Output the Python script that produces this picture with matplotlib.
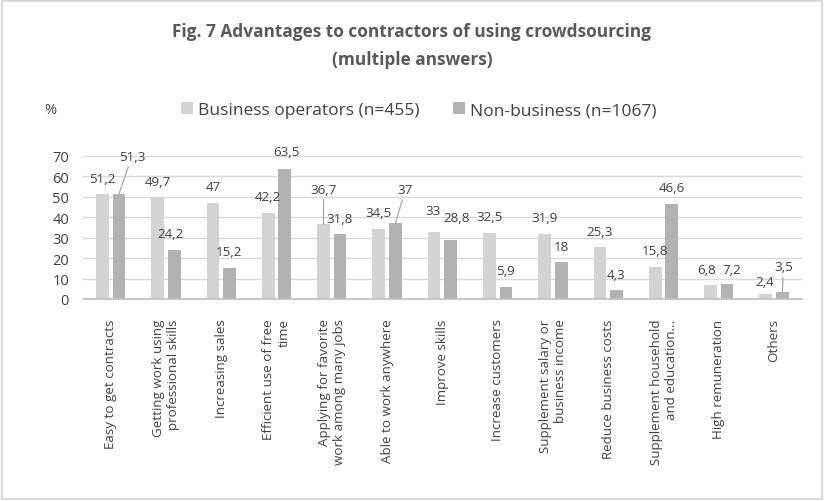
import matplotlib.pyplot as plt
import matplotlib.patches as mpatches
import numpy as np

plt.rcParams['font.family'] = ['Open Sans', 'DejaVu Sans']

categories = ["Easy to get contracts",
              "Getting work using\nprofessional skills",
              "Increasing sales",
              "Efficient use of free\ntime",
              "Applying for favorite\nwork among many jobs",
              "Able to work anywhere",
              "Improve skills",
              "Increase customers",
              "Supplement salary or\nbusiness income",
              "Reduce business costs",
              "Supplement household\nand education...",
              "High remuneration",
              "Others"]
business = [51.2, 49.7, 47, 42.2, 36.7, 34.5, 33, 32.5, 31.9, 25.3, 15.8, 6.8, 2.4]
non_business = [51.3, 24.2, 15.2, 63.5, 31.8, 37, 28.8, 5.9, 18, 4.3, 46.6, 7.2, 3.5]
series_names = ["Business operators (n=455)", "Non-business (n=1067)"]
colors = ["#d3d3d3", "#b2b2b2"]

# label offsets (pixels) for labels that are moved off the default spot
default_off = (0, 16)
offsets = {
    (1, 0): (13, 38), (0, 4): (0, 35), (1, 5): (10, 34), (1, 12): (1, 25),
    (1, 1): (-4, 16), (1, 3): (2, 18), (0, 6): (-1, 21), (1, 6): (6, 23),
    (0, 11): (-4, 16), (1, 11): (5, 15), (0, 12): (-1, 13),
}
leaders = {(1, 0), (0, 4), (1, 5), (1, 12)}

fig = plt.figure(figsize=(8.24, 5.02), dpi=100)
ax = fig.add_axes([0.1007, 0.4024, 0.8723, 0.2849])

x = np.arange(len(categories))
width = 0.23
shift = 0.15
for i, vals in enumerate([business, non_business]):
    xs = x + (-shift if i == 0 else shift)
    ax.bar(xs, vals, width, color=colors[i], label=series_names[i], zorder=2)
    for j, v in enumerate(vals):
        dx, dy = offsets.get((i, j), default_off)
        txt = ("%g" % v).replace(".", ",")
        ap = None
        if (i, j) in leaders:
            ap = dict(arrowstyle="-", color="#a6a6a6", lw=0.9, shrinkA=1, shrinkB=0)
        ax.annotate(txt, xy=(xs[j], v), xytext=(dx, dy), textcoords="offset pixels",
                    ha="center", va="center", fontsize=9.6, color="#404040",
                    arrowprops=ap)

ax.set_xlim(-0.5, len(categories) - 0.5)
ax.set_ylim(0, 70)
ax.set_yticks(range(0, 71, 10))
ax.yaxis.grid(True, color="#d9d9d9", lw=1, zorder=0)
ax.set_axisbelow(True)
for s in ["top", "right", "left"]:
    ax.spines[s].set_visible(False)
ax.spines["bottom"].set_color("#bfbfbf")
ax.spines["bottom"].set_linewidth(1.2)
ax.tick_params(length=0, colors="#404040", labelsize=10.5)
ax.tick_params(axis="y", pad=10)
ax.set_xticks(x)
ax.set_xticklabels(categories, rotation=90, ha="center", va="top",
                   multialignment="right", fontsize=9.6)
ax.tick_params(axis="x", pad=14)

fig.text(0.5, 0.937, "Fig. 7 Advantages to contractors of using crowdsourcing",
         ha="center", va="center", fontsize=12.4, fontweight="bold", color="#595959")
fig.text(0.5, 0.881, "(multiple answers)",
         ha="center", va="center", fontsize=12.4, fontweight="bold", color="#595959")
fig.text(0.061, 0.779, "%", ha="center", va="center", fontsize=10.5, color="#404040")

leg = fig.legend(loc="center", bbox_to_anchor=(0.508, 0.779), ncol=2, frameon=False,
                 handlelength=0.7, handleheight=0.7, handletextpad=0.3,
                 columnspacing=1.9, fontsize=12.5)
for t in leg.get_texts():
    t.set_color("#404040")

fig.patches.append(mpatches.Rectangle((0.003, 0.003), 0.994, 0.994, transform=fig.transFigure,
                                      fill=False, edgecolor="#d9d9d9", lw=1.5))

fig.savefig("out.png", dpi=100)
